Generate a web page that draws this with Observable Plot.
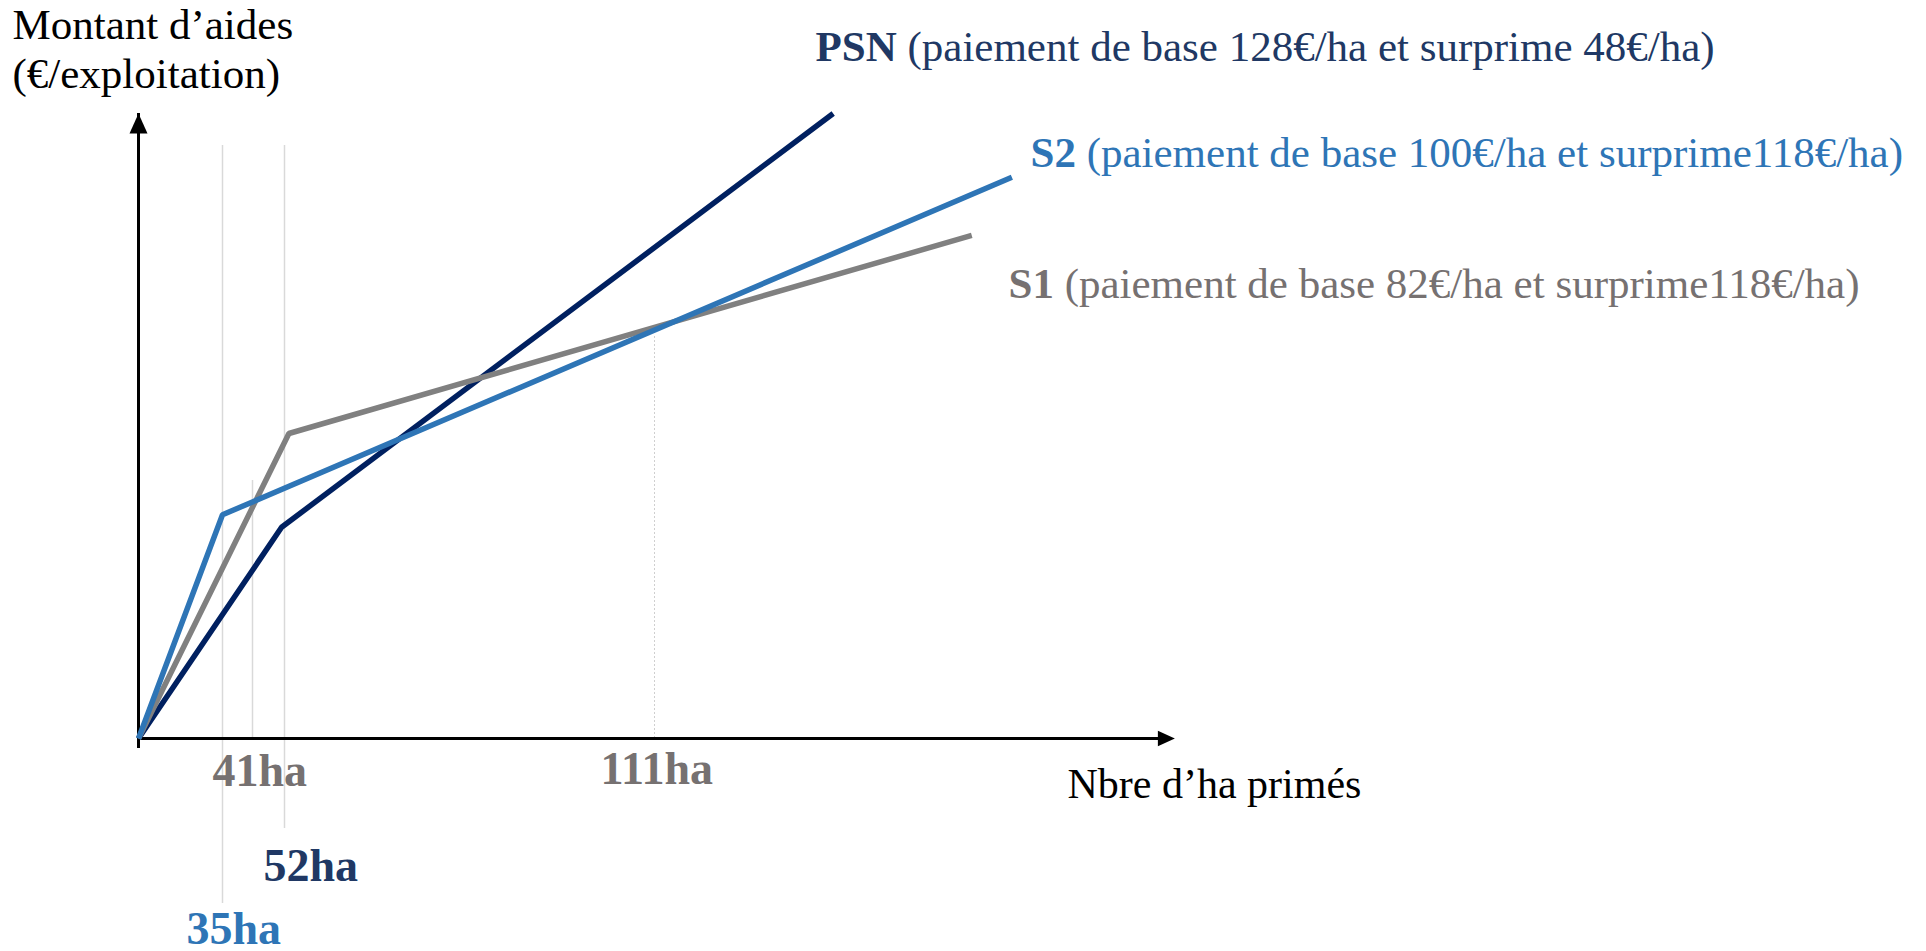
<!DOCTYPE html>
<html><head><meta charset="utf-8">
<script src="https://cdn.jsdelivr.net/npm/d3@7"></script>
<script src="https://cdn.jsdelivr.net/npm/@observablehq/plot@0.6"></script>
<style>
html,body{margin:0;padding:0;background:#fff;overflow:hidden}
#chart svg{display:block}
</style></head><body><div id="chart"></div>
<script>
// ---- Data (schematic: ha primés -> montant d'aides, unités relatives) ----
const seriesNames = ["PSN", "S1", "S2"];
const psnHa = [0, 51, 139.5];
const psnAmount = [0, 33.8, 100];
const s1Ha = [0, 52.7, 161.6];
const s1Amount = [0, 48.8, 80.5];
const s2Ha = [0, 35, 168];
const s2Amount = [0, 35.8, 89.8];
const seriesLabels = [
  "PSN (paiement de base 128€/ha et surprime 48€/ha)",
  "S2 (paiement de base 100€/ha et surprime118€/ha)",
  "S1 (paiement de base 82€/ha et surprime118€/ha)"
];
const tickHa = [35, 41, 52, 111];
const tickLabels = ["35ha", "41ha", "52ha", "111ha"];
const yAxisTitle = ["Montant d’aides", "(€/exploitation)"];
const xAxisTitle = "Nbre d’ha primés";
const axisEndHa = 194;
const axisTopAmount = 100;

// The drawing's ha axis is schematic (not to scale): piecewise position of each ha value
const haPos = d3.scaleLinear().domain([0, ...tickHa, 200]).range([0, 84, 114, 146, 516, 1074]);

// ---- Build table ----
const rows = [];
[[psnHa, psnAmount], [s1Ha, s1Amount], [s2Ha, s2Amount]].forEach(([xs, ys], k) =>
  xs.forEach((x, i) => rows.push({series: seriesNames[k], ha: x, amount: ys[i]})));

const serif = "'Liberation Serif', 'Times New Roman', Times, serif";
const arrowHead = {
  draw(context, size) {
    const r = Math.sqrt(size / Math.PI);
    context.moveTo(0, 0);
    context.lineTo(-0.45 * r, r);
    context.lineTo(0.45 * r, r);
    context.closePath();
  }
};

// gridline extents (amount units)
const grid = [
  {i: 0, y1: -26.4, y2: 94.9, dash: null},
  {i: 1, y1: 0, y2: 41.3, dash: null},
  {i: 2, y1: -14.4, y2: 94.9, dash: null},
  {i: 3, y1: 0, y2: 64.5, dash: "2,2"}
];
const tickLayout = [
  {i: 0, dx: -36, dy: 205, fill: "#2E75B6"},
  {i: 1, dx: -40, dy: 47, fill: "#767171"},
  {i: 2, dx: -21, dy: 142, fill: "#203864"},
  {i: 3, dx: -54, dy: 45, fill: "#767171"}
];
const labelLayout = [
  {dx: 815, dy: 60, fill: "#203864"},
  {dx: 1030, dy: 166, fill: "#2E75B6"},
  {dx: 1008, dy: 297, fill: "#767171"}
];

const marks = [];
grid.forEach(g => marks.push(Plot.ruleX([tickHa[g.i]], {
  x: d => haPos(d), y1: g.y1, y2: g.y2, stroke: g.dash ? "#CFCFCF" : "#D9D9D9",
  strokeWidth: g.dash ? 1 : 1.5, strokeDasharray: g.dash
})));
// axes
marks.push(Plot.ruleY([0], {x1: haPos(0), x2: haPos(axisEndHa), stroke: "black", strokeWidth: 3, insetRight: 10}));
marks.push(Plot.ruleX([haPos(0)], {y1: 0, y2: axisTopAmount, stroke: "black", strokeWidth: 3, insetTop: 10}));
marks.push(Plot.dot([0], {x: haPos(axisEndHa), y: 0, symbol: arrowHead, r: 17, fill: "black", stroke: null, rotate: 90}));
marks.push(Plot.dot([0], {x: haPos(0), y: axisTopAmount, symbol: arrowHead, r: 20, fill: "black", stroke: null}));
// series
marks.push(Plot.line(rows, {x: d => haPos(d.ha), y: "amount", z: "series", stroke: "series", strokeWidth: 5.5, strokeLinejoin: "miter", strokeLinecap: "butt"}));
// tick labels
tickLayout.forEach(t => marks.push(Plot.text([tickLabels[t.i]], {
  x: [haPos(tickHa[t.i])], y: [0], text: d => d, textAnchor: "start", lineAnchor: "bottom",
  dx: t.dx, dy: t.dy, fill: t.fill, fontSize: 46, fontWeight: "bold", fontFamily: serif
})));
// series labels
labelLayout.forEach((l, k) => marks.push(Plot.text([seriesLabels[k]], {
  frameAnchor: "top-left", text: d => d, textAnchor: "start", lineAnchor: "bottom",
  dx: l.dx, dy: l.dy, fill: l.fill, fontSize: 43, fontFamily: serif
})));
// axis titles
marks.push(Plot.text([yAxisTitle.join("\n")], {
  frameAnchor: "top-left", text: d => d, textAnchor: "start", lineAnchor: "bottom",
  lineHeight: 1.12, dx: 12, dy: 87, fill: "black", fontSize: 43, fontFamily: serif
}));
marks.push(Plot.text([xAxisTitle], {
  frameAnchor: "top-left", text: d => d, textAnchor: "start", lineAnchor: "bottom",
  dx: 1067, dy: 797, fill: "black", fontSize: 42, fontFamily: serif
}));

const chart = Plot.plot({
  width: 1926, height: 951, margin: 0,
  style: {background: "white", fontFamily: serif, overflow: "visible"},
  x: {domain: [0, 1074], range: [138, 1212], axis: null},
  y: {domain: [0, 100], range: [738, 113], axis: null},
  color: {domain: seriesNames, range: ["#002060", "#808080", "#2E75B6"]},
  marks
});
document.getElementById("chart").appendChild(chart);

// bold the series name inside each series label
d3.select(chart).selectAll("text").each(function () {
  const s = this.textContent;
  const k = seriesLabels.indexOf(s);
  if (k < 0) return;
  const sp = s.indexOf(" ");
  const sel = d3.select(this);
  sel.text(null);
  sel.append("tspan").attr("font-weight", "bold").text(s.slice(0, sp));
  sel.append("tspan").text(s.slice(sp));
});
</script></body></html>
